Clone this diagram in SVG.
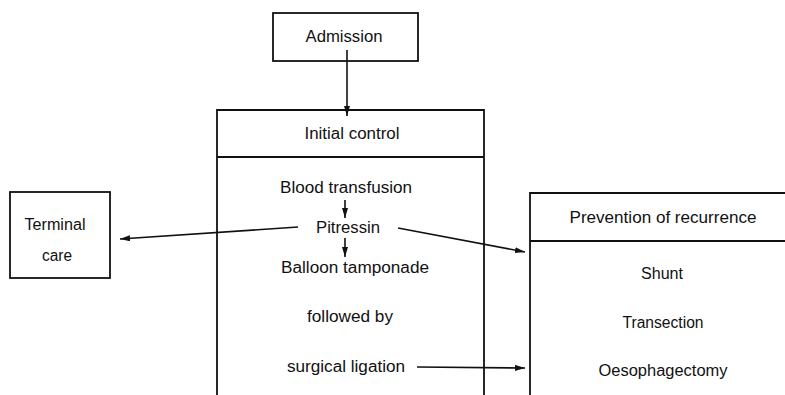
<svg xmlns="http://www.w3.org/2000/svg" width="785" height="395" viewBox="0 0 785 395">
<defs>
<style>
.box{fill:none;stroke:#111;stroke-width:1.8}
.ln{fill:none;stroke:#111;stroke-width:1.6}
text{font-family:"Liberation Sans",Arial,sans-serif;font-size:16px;fill:#111;text-anchor:middle}
</style>
<marker id="ah" viewBox="0 0 10 6" refX="10" refY="3" markerWidth="10" markerHeight="6" markerUnits="userSpaceOnUse" orient="auto">
<path d="M0,0 L10,3 L0,6 Z" fill="#111"/>
</marker>
</defs>
<rect width="785" height="395" fill="#fff"/>
<g id="admission">
<rect class="box" x="273" y="13" width="145" height="48"/>
<text x="344" y="42" textLength="77" lengthAdjust="spacingAndGlyphs">Admission</text>
</g>
<g id="initial-control">
<path class="box" d="M217,395 V110 H484 V395 M217,157 H484"/>
<text x="352" y="139" textLength="95" lengthAdjust="spacingAndGlyphs">Initial control</text>
<text x="346" y="193" textLength="132" lengthAdjust="spacingAndGlyphs">Blood transfusion</text>
<text x="348" y="233" textLength="64" lengthAdjust="spacingAndGlyphs">Pitressin</text>
<text x="355" y="273" textLength="148" lengthAdjust="spacingAndGlyphs">Balloon tamponade</text>
<text x="350" y="322" textLength="86" lengthAdjust="spacingAndGlyphs">followed by</text>
<text x="346" y="372" textLength="118" lengthAdjust="spacingAndGlyphs">surgical ligation</text>
</g>
<g id="terminal-care">
<rect class="box" x="10" y="192" width="100" height="86"/>
<text x="55" y="230" textLength="61" lengthAdjust="spacingAndGlyphs">Terminal</text>
<text x="57" y="261" textLength="30" lengthAdjust="spacingAndGlyphs">care</text>
</g>
<g id="prevention">
<path class="box" d="M530,395 V193 H785 M530,241 H785"/>
<text x="663" y="223" textLength="187" lengthAdjust="spacingAndGlyphs">Prevention of recurrence</text>
<text x="662" y="279" textLength="42" lengthAdjust="spacingAndGlyphs">Shunt</text>
<text x="663" y="328" textLength="81" lengthAdjust="spacingAndGlyphs">Transection</text>
<text x="663" y="376" textLength="129" lengthAdjust="spacingAndGlyphs">Oesophagectomy</text>
</g>
<g id="connectors">
<line class="ln" x1="347" y1="50" x2="347" y2="116" marker-end="url(#ah)"/>
<line class="ln" x1="345" y1="200" x2="345" y2="218" marker-end="url(#ah)"/>
<line class="ln" x1="345" y1="238" x2="345" y2="257" marker-end="url(#ah)"/>
<line class="ln" x1="298" y1="227" x2="120" y2="239" marker-end="url(#ah)"/>
<line class="ln" x1="398" y1="228" x2="525" y2="252" marker-end="url(#ah)"/>
<line class="ln" x1="417" y1="367" x2="525" y2="368" marker-end="url(#ah)"/>
</g>
</svg>
